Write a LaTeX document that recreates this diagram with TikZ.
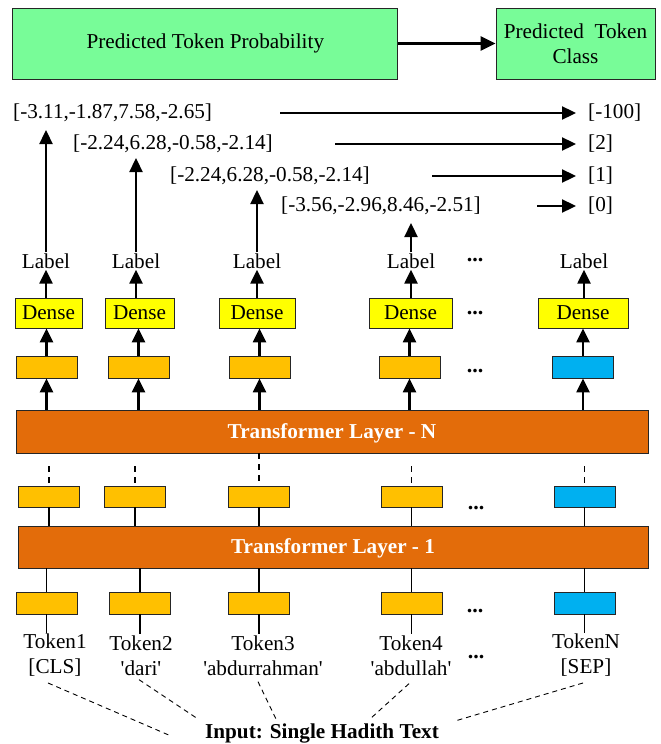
\documentclass[tikz,border=0pt]{standalone}
\usepackage{fontspec}
\setmainfont{Liberation Serif}
\usetikzlibrary{arrows.meta}
\definecolor{pgreen}{RGB}{120,252,152}
\definecolor{dyellow}{RGB}{255,255,0}
\definecolor{gold}{RGB}{255,192,0}
\definecolor{sblue}{RGB}{0,176,240}
\definecolor{torange}{RGB}{227,108,10}
\newcommand{\sq}{\textquotesingle}
\begin{document}
\begin{tikzpicture}[x=1pt,y=-1pt,
  font=\fontsize{21.2}{25}\selectfont,
  bx/.style={draw=black!85,line width=0.8pt,inner sep=0pt},
  gbox/.style={bx,fill=pgreen,minimum height=71pt},
  dbox/.style={bx,fill=dyellow,minimum height=30pt},
  obox/.style={bx,fill=gold,minimum width=61pt,minimum height=22pt},
  nbox/.style={bx,fill=sblue,minimum width=61pt,minimum height=22pt},
  tbox/.style={bx,fill=torange,text=white,font=\fontsize{21.2}{25}\selectfont\bfseries,minimum width=631pt,minimum height=43pt},
  arr/.style={line width=2.3pt,-{Triangle[length=14pt,width=13pt]}},
  harr/.style={line width=2.6pt,-{Triangle[length=15pt,width=14pt]}},
  ln/.style={line width=1.5pt},
  dsh/.style={line width=1.3pt,dash pattern=on 6pt off 5pt},
  idsh/.style={line width=0.9pt,dash pattern=on 5pt off 4pt},
  txt/.style={inner sep=1pt},
  dots/.style={inner sep=1pt,font=\fontsize{22}{25}\selectfont\bfseries},
  tok/.style={inner sep=1pt,align=center}
]
\useasboundingbox (0,0) rectangle (661,744);

% top boxes
\node[gbox,minimum width=385pt] (prob) at (205.3,43.5) {Predicted Token Probability};
\node[gbox,minimum width=159pt,align=center] (cls) at (575.5,43.5) {Predicted\hspace{0.5em}Token\\Class};
\draw[harr] (prob) -- (cls);

% probability vectors and classes
\node[txt,anchor=west] (v1) at (12,113) {[-3.11,-1.87,7.58,-2.65]};
\node[txt,anchor=west] (v2) at (72,144) {[-2.24,6.28,-0.58,-2.14]};
\node[txt,anchor=west] (v3) at (169,176) {[-2.24,6.28,-0.58,-2.14]};
\node[txt,anchor=west] (v4) at (280,206) {[-3.56,-2.96,8.46,-2.51]};
\node[txt,anchor=west] (o1) at (587,113) {[-100]};
\node[txt,anchor=west] (o2) at (587,144) {[2]};
\node[txt,anchor=west] (o3) at (587,176) {[1]};
\node[txt,anchor=west] (o4) at (587,206) {[0]};
\coordinate (s1) at (280,113);
\coordinate (s2) at (335,144);
\coordinate (s3) at (432,176);
\coordinate (s4) at (537,206);
\draw[arr,shorten >=11pt] (s1) -- (o1.west);
\draw[arr,shorten >=11pt] (s2) -- (o2.west);
\draw[arr,shorten >=11pt] (s3) -- (o3.west);
\draw[arr,shorten >=11pt] (s4) -- (o4.west);

% labels
\node[txt] (l1) at (46,261) {Label};
\node[txt] (l2) at (136,261) {Label};
\node[txt] (l3) at (257,261) {Label};
\node[txt] (l4) at (411,261) {Label};
\node[txt] (lN) at (584,261) {Label};
\node[dots] (k1) at (475,260) {...};
\coordinate (p1) at (46,130);
\coordinate (p2) at (136,158);
\coordinate (p3) at (257,190);
\coordinate (p4) at (411,223);
\draw[arr] (l1) -- (p1);
\draw[arr] (l2) -- (p2);
\draw[arr] (l3) -- (p3);
\draw[arr] (l4) -- (p4);

% dense
\node[dbox,minimum width=67pt] (d1) at (48.5,313) {Dense};
\node[dbox,minimum width=69pt] (d2) at (139.5,313) {Dense};
\node[dbox,minimum width=76pt] (d3) at (257,313) {Dense};
\node[dbox,minimum width=83pt] (d4) at (410.5,313) {Dense};
\node[dbox,minimum width=90pt] (dN) at (583,313) {Dense};
\node[dots] (k2) at (475,313) {...};
\foreach \i in {1,2,3,4,N}{\draw[arr] (d\i.north -| l\i) -- (l\i.south);}

% hidden row A
\node[obox] (a1) at (46.5,367) {};
\node[obox] (a2) at (138.5,367) {};
\node[obox] (a3) at (259.5,367) {};
\node[obox] (a4) at (409.5,367) {};
\node[nbox] (aN) at (583,367) {};
\node[dots] (k3) at (475,371) {...};
\foreach \i in {1,2,3,4,N}{\draw[arr] (a\i.north) -- (a\i.north |- d\i.south);}

% transformer layer N
\node[tbox,minimum width=632pt,text depth=1pt] (tln) at (332,431.5) {Transformer Layer - N};
\foreach \i in {1,2,3,4,N}{\draw[arr] (tln.north -| a\i) -- (a\i.south);}

% hidden row B
\node[obox,minimum height=21pt] (b1) at (49,496.5) {};
\node[obox,minimum height=21pt] (b2) at (135,496.5) {};
\node[obox,minimum height=21pt] (b3) at (259,496.5) {};
\node[obox,minimum height=21pt] (b4) at (411.5,496.5) {};
\node[nbox,minimum height=21pt] (bN) at (584.5,496.5) {};
\node[dots] (k4) at (476,508) {...};
\foreach \i in {1,2,4,N}{\draw[dsh] ([yshift=-13pt]tln.south -| b\i) -- (b\i.north);}
\draw[dsh] (tln.south -| b3) -- (b3.north);

% transformer layer 1
\node[tbox,minimum width=630pt,minimum height=42pt,text depth=1pt] (tl1) at (333,547) {Transformer Layer - 1};
\foreach \i in {1,2,3,4,N}{\draw[ln] (b\i.south) -- (b\i.south |- tl1.north);}

% embedding row C
\node[obox] (c1) at (46.5,603) {};
\node[obox] (c2) at (140,603) {};
\node[obox] (c3) at (259,603) {};
\node[obox] (c4) at (411.5,603) {};
\node[nbox] (cN) at (584.5,603) {};
\node[dots] (k5) at (475,611) {...};
\foreach \i in {1,2,3,4,N}{\draw[ln] (tl1.south -| c\i) -- (c\i.north);}

% tokens
\node[tok] (t1) at (55,655.5) {Token1\\{}[CLS]};
\node[tok] (t2) at (141,655.5) {Token2\\\sq dari\sq};
\node[tok] (t3) at (263,655.5) {Token3\\\sq abdurrahman\sq};
\node[tok] (t4) at (411,655.5) {Token4\\\sq abdullah\sq};
\node[tok] (tN) at (586,655.5) {TokenN\\{}[SEP]};
\node[dots] (k6) at (476,657) {...};
\foreach \i in {1,2,3,4,N}{\draw[ln] (c\i.south) -- (c\i.south |- t\i.north);}

% input
\node[txt,font=\fontsize{21.2}{25}\selectfont\bfseries] (inp) at (322,733) {Input: Single Hadith Text};
\coordinate (e1) at (171,736);
\coordinate (e2) at (198,719);
\coordinate (e3) at (276,719);
\coordinate (e4) at (370,719);
\coordinate (e5) at (455,721);
\draw[idsh] ([xshift=-7pt,yshift=-5pt]t1.south) -- (e1);
\draw[idsh] ([xshift=-2pt,yshift=-3pt]t2.south) -- (e2);
\draw[idsh] ([xshift=-5pt,yshift=-5pt]t3.south) -- (e3);
\draw[idsh] ([xshift=-2pt,yshift=-7pt]t4.south) -- (e4);
\draw[idsh] ([xshift=-3pt,yshift=-5pt]tN.south) -- (e5);
\end{tikzpicture}
\end{document}
